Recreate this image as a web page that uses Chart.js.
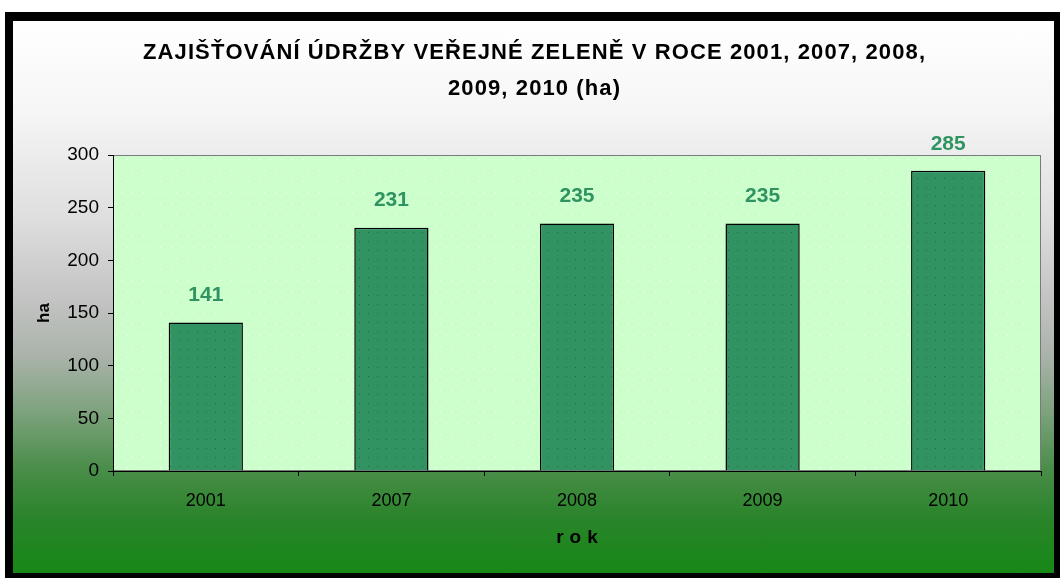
<!DOCTYPE html>
<html>
<head>
<meta charset="utf-8">
<script src="https://cdn.jsdelivr.net/npm/chart.js@4"></script>
<style>
  html, body { margin: 0; padding: 0; background: #ffffff; }
  #frame { position: absolute; left: 5px; top: 12px; width: 1055px; height: 566px; background: #000; }
  #inner { position: absolute; left: 13px; top: 21px; width: 1041px; height: 552px;
    background: linear-gradient(to bottom, #ffffff 0%, #f6f6f6 16%, #dedede 36%, #c4c4c4 50%, #a9b2a9 61%, #7ca27c 71%, #4a8d4a 81%, #2a842a 90%, #168816 100%); }
  #inner canvas { position: absolute; left: 0; top: 0; }
</style>
</head>
<body>
<div id="frame"></div>
<div id="inner"><canvas id="c" width="1041" height="552"></canvas></div>
<script>
const categories = ['2001', '2007', '2008', '2009', '2010'];
const values = [141, 231, 235, 235, 285];
const yTicks = [0, 50, 100, 150, 200, 250, 300];
const titleLines = ['ZAJIŠŤOVÁNÍ ÚDRŽBY VEŘEJNÉ ZELENĚ V ROCE 2001, 2007, 2008,', '2009, 2010 (ha)'];
const xTitle = 'rok';
const yTitle = 'ha';

function makeBarPattern() {
  const p = document.createElement('canvas');
  p.width = 9; p.height = 9;
  const c = p.getContext('2d');
  c.fillStyle = '#319262';
  c.fillRect(0, 0, 9, 9);
  c.fillStyle = '#1c6a42';
  c.fillRect(4, 4, 1, 1);
  return document.getElementById('c').getContext('2d').createPattern(p, 'repeat');
}

function spacedText(ctx, text, cx, cy, spacing) {
  const chars = Array.from(text);
  const w = ctx.measureText(text).width + spacing * (chars.length - 1);
  let x = cx - w / 2;
  ctx.textAlign = 'left';
  chars.forEach(ch => {
    ctx.fillText(ch, x, cy);
    x += ctx.measureText(ch).width + spacing;
  });
}

const plotBg = {
  id: 'plotBg',
  beforeDraw(chart) {
    const {ctx, chartArea: a} = chart;
    ctx.save();
    ctx.fillStyle = '#ccffcc';
    ctx.fillRect(a.left, a.top, a.right - a.left, a.bottom - a.top);
    ctx.fillStyle = 'rgba(255,255,255,0.9)';
    for (let y = a.top + 4; y < a.bottom; y += 11) {
      const off = (Math.round((y - a.top) / 11) % 2) ? 5 : 0;
      for (let x = a.left + 3 + off; x < a.right; x += 11) ctx.fillRect(x, y, 1, 1);
    }
    ctx.strokeStyle = '#7a7a7a';
    ctx.lineWidth = 1;
    ctx.strokeRect(a.left + 0.5, a.top + 0.5, a.right - a.left - 1, a.bottom - a.top - 1);
    ctx.restore();
  }
};

const chartTexts = {
  id: 'chartTexts',
  afterDraw(chart) {
    const {ctx, chartArea: a} = chart;
    ctx.save();
    ctx.fillStyle = '#000';
    ctx.textBaseline = 'middle';
    ctx.font = 'bold 22px "Liberation Sans", Arial, sans-serif';
    const w1 = ctx.measureText(titleLines[0]).width;
    const spacing = Math.max(0, (782 - w1) / (Array.from(titleLines[0]).length - 1));
    const ys = [32, 68];
    titleLines.forEach((line, i) => spacedText(ctx, line, 521, ys[i], spacing));
    ctx.font = 'bold 19px "Liberation Sans", Arial, sans-serif';
    spacedText(ctx, xTitle, (a.left + a.right) / 2, 517, 6);
    ctx.restore();
  }
};

const valueLabels = {
  id: 'valueLabels',
  afterDatasetsDraw(chart) {
    const {ctx} = chart;
    const meta = chart.getDatasetMeta(0);
    ctx.save();
    ctx.font = 'bold 21px "Liberation Sans", Arial, sans-serif';
    ctx.fillStyle = '#2f9461';
    ctx.textAlign = 'center';
    ctx.textBaseline = 'middle';
    meta.data.forEach((bar, i) => {
      ctx.fillText(String(chart.data.datasets[0].data[i]), bar.x, bar.y - 27);
    });
    ctx.restore();
  }
};

new Chart(document.getElementById('c'), {
  type: 'bar',
  data: {
    labels: categories,
    datasets: [{
      data: values,
      backgroundColor: makeBarPattern(),
      borderColor: '#000000',
      borderWidth: 1.5,
      borderSkipped: 'bottom',
      categoryPercentage: 1,
      barPercentage: 0.4
    }]
  },
  options: {
    responsive: false,
    animation: false,
    devicePixelRatio: 1,
    layout: { padding: { left: 0, right: 13, top: 134, bottom: 0 } },
    plugins: {
      legend: { display: false },
      tooltip: { enabled: false },
      title: { display: false }
    },
    scales: {
      x: {
        afterFit(scale) { scale.height = 102; },
        grid: { offset: true, drawOnChartArea: false, drawTicks: true, tickLength: 5, color: '#000' },
        border: { color: '#000', width: 1 },
        ticks: { color: '#000', padding: 14, font: { family: '"Liberation Sans Narrow", "Liberation Sans", Arial, sans-serif', size: 18 } },
        title: { display: false, text: xTitle }
      },
      y: {
        min: 0, max: 300,
        afterFit(scale) { scale.width = 100; },
        afterBuildTicks(scale) { scale.ticks = yTicks.map(v => ({ value: v })); },
        grid: { drawOnChartArea: false, drawTicks: true, tickLength: 5, color: '#000' },
        border: { color: '#000', width: 1 },
        ticks: { color: '#000', padding: 9, font: { family: '"Liberation Sans", Arial, sans-serif', size: 19 } },
        title: { display: true, text: yTitle, color: '#000', padding: { top: 21, bottom: 0 },
          font: { family: '"Liberation Sans", Arial, sans-serif', size: 17, weight: 'bold' } }
      }
    }
  },
  plugins: [plotBg, valueLabels, chartTexts]
});
</script>
</body>
</html>
